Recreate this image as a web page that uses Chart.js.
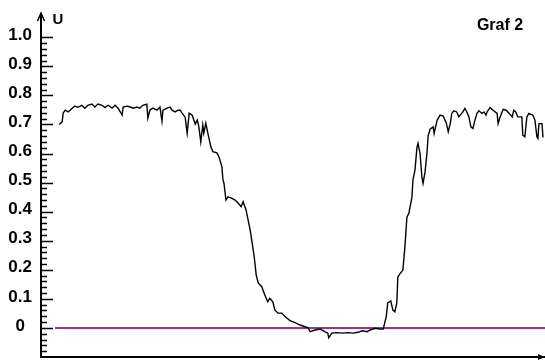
<!DOCTYPE html>
<html>
<head>
<meta charset="utf-8">
<script src="https://cdn.jsdelivr.net/npm/chart.js@4.4.0/dist/chart.umd.min.js"></script>
<style>
  html, body { margin: 0; padding: 0; background: #fff; }
  #graf2 { display: block; }
</style>
</head>
<body>
<canvas id="graf2" width="545" height="361"></canvas>
<script>
// measured trace (t = arbitrary time units, U = value)
var tValues = [
  3.6, 4.2, 4.4, 4.8, 5.4, 6.2, 6.7, 7.3, 8.1, 8.7, 9.3, 10.1, 10.7, 11.3, 12.1, 12.7, 13.3, 14.1, 14.7, 15.3,
  16.1, 16.3, 17.1, 17.7, 18.3, 19.0, 19.6, 20.2, 21.0, 21.2, 21.6, 22.2, 23.0, 23.6, 24.0, 24.2, 25.0, 25.6, 26.0, 26.6,
  27.2, 27.6, 28.0, 28.6, 29.0, 29.4, 30.0, 30.6, 31.0, 31.3, 31.7, 32.1, 32.3, 32.7, 33.1, 33.7, 34.1, 34.9, 35.3, 35.9,
  36.1, 36.3, 36.7, 37.1, 37.9, 38.5, 39.1, 39.7, 40.1, 40.7, 41.1, 41.5, 41.9, 42.3, 42.7, 43.1, 43.8, 44.4, 45.0, 45.4,
  46.0, 46.4, 47.0, 47.8, 48.4, 49.4, 50.4, 51.4, 52.4, 53.0, 53.4, 54.4, 55.4, 56.3, 56.9, 57.1, 57.7, 58.7, 59.9, 60.9,
  61.9, 62.9, 63.7, 64.7, 65.3, 66.3, 67.3, 67.9, 68.5, 68.8, 69.4, 69.8, 70.2, 70.6, 70.8, 71.2, 71.8, 72.2, 72.6, 73.0,
  73.6, 73.8, 74.2, 74.6, 74.8, 75.2, 75.6, 75.8, 76.2, 76.6, 76.8, 77.2, 77.8, 78.0, 78.6, 79.2, 79.8, 80.4, 80.8, 81.2,
  81.5, 81.9, 82.5, 82.9, 83.7, 84.1, 84.5, 84.9, 85.3, 85.7, 86.1, 86.5, 86.9, 87.5, 87.9, 88.3, 88.5, 89.1, 89.7, 90.5,
  90.7, 91.1, 91.7, 92.3, 92.9, 93.5, 93.8, 94.2, 94.6, 95.4, 95.6, 96.0, 96.4, 96.8, 97.6, 98.0, 98.4, 98.6, 98.8, 99.4,
  99.6
];
var uValues = [
  0.700, 0.709, 0.739, 0.749, 0.743, 0.756, 0.763, 0.759, 0.766, 0.756, 0.766, 0.770, 0.760, 0.770, 0.766, 0.758, 0.766, 0.756, 0.766, 0.756,
  0.732, 0.760, 0.763, 0.760, 0.756, 0.760, 0.756, 0.766, 0.770, 0.722, 0.749, 0.756, 0.749, 0.760, 0.712, 0.749, 0.756, 0.760, 0.749, 0.743,
  0.749, 0.749, 0.739, 0.725, 0.670, 0.739, 0.732, 0.701, 0.715, 0.694, 0.640, 0.698, 0.670, 0.704, 0.670, 0.623, 0.606, 0.602, 0.589, 0.554,
  0.509, 0.498, 0.440, 0.451, 0.446, 0.440, 0.430, 0.417, 0.434, 0.405, 0.371, 0.337, 0.292, 0.245, 0.182, 0.155, 0.142, 0.113, 0.090, 0.102,
  0.090, 0.062, 0.051, 0.051, 0.039, 0.025, 0.018, 0.010, 0.004, 0.000, -0.013, -0.007, -0.004, -0.013, -0.018, -0.034, -0.018, -0.016, -0.018, -0.016,
  -0.018, -0.015, -0.010, -0.013, -0.007, -0.001, -0.004, -0.004, 0.039, 0.086, 0.093, 0.062, 0.055, 0.086, 0.175, 0.186, 0.199, 0.278, 0.381, 0.395,
  0.450, 0.509, 0.543, 0.622, 0.635, 0.601, 0.515, 0.497, 0.536, 0.605, 0.660, 0.684, 0.692, 0.669, 0.715, 0.732, 0.729, 0.706, 0.675, 0.703,
  0.738, 0.747, 0.743, 0.726, 0.743, 0.755, 0.743, 0.726, 0.692, 0.686, 0.715, 0.738, 0.747, 0.738, 0.743, 0.732, 0.743, 0.758, 0.749, 0.738,
  0.703, 0.726, 0.752, 0.749, 0.738, 0.726, 0.749, 0.743, 0.726, 0.726, 0.663, 0.657, 0.726, 0.738, 0.732, 0.715, 0.657, 0.652, 0.703, 0.703,
  0.655
];

// zero reference line
var zeroT = [2.8, 100];
var zeroU = [0, 0];

// y axis labels
var yTicks = [0, 0.1, 0.2, 0.3, 0.4, 0.5, 0.6, 0.7, 0.8, 0.9, 1.0];
var yTickLabels = ['0', '0.1', '0.2', '0.3', '0.4', '0.5', '0.6', '0.7', '0.8', '0.9', '1.0'];

var axisTitle = 'U';
var chartTitle = 'Graf 2';

function toPoints(xs, ys) {
  return xs.map(function (x, i) { return { x: x, y: ys[i] }; });
}

// inner tick marks, arrows and the two captions
var axisDecor = {
  id: 'axisDecor',
  afterDraw: function (chart) {
    var ctx = chart.ctx;
    var y = chart.scales.y;
    var area = chart.chartArea;
    var x0 = area.left;
    ctx.save();
    ctx.strokeStyle = '#000';
    ctx.lineWidth = 1.5;
    for (var i = -4; i <= 50; i++) {
      var v = i * 0.02;
      var py = Math.round(y.getPixelForValue(v)) + 0.5;
      var len = (i % 5 === 0) ? 12 : 6;
      ctx.beginPath();
      ctx.moveTo(x0, py);
      ctx.lineTo(x0 + len, py);
      ctx.stroke();
    }
    // x axis line
    ctx.lineWidth = 2;
    ctx.beginPath();
    ctx.moveTo(x0 - 1, area.bottom);
    ctx.lineTo(area.right, area.bottom);
    ctx.stroke();
    // y arrow
    ctx.lineWidth = 1.5;
    ctx.beginPath();
    ctx.moveTo(x0 - 3.5, area.top + 7);
    ctx.lineTo(x0, area.top - 1);
    ctx.lineTo(x0 + 3.5, area.top + 7);
    ctx.stroke();
    // x arrow
    ctx.fillStyle = '#000';
    ctx.beginPath();
    ctx.moveTo(area.right, area.bottom);
    ctx.lineTo(area.right - 7, area.bottom - 3);
    ctx.lineTo(area.right - 7, area.bottom + 3);
    ctx.closePath();
    ctx.fill();

    ctx.font = 'bold 15px "Liberation Sans", Arial, sans-serif';
    ctx.textAlign = 'center';
    ctx.textBaseline = 'middle';
    ctx.fillText(axisTitle, 58, 20);
    ctx.font = 'bold 16px "Liberation Sans", Arial, sans-serif';
    ctx.fillText(chartTitle, 500, 26);
    ctx.restore();
  }
};

var ctx_graf2 = document.getElementById('graf2');
var graf2 = new Chart(ctx_graf2, {
  type: 'line',
  data: {
    datasets: [
      {
        label: 'U',
        data: toPoints(tValues, uValues),
        borderColor: '#000',
        borderWidth: 1.4,
        pointRadius: 0,
        tension: 0,
      },
      {
        label: 'zero',
        data: toPoints(zeroT, zeroU),
        borderColor: '#993399',
        borderWidth: 2,
        pointRadius: 0,
      },
    ],
  },
  options: {
    responsive: false,
    animation: false,
    devicePixelRatio: 1,
    layout: { padding: { top: 14, bottom: 4, left: 0, right: 0 } },
    plugins: {
      legend: { display: false },
      tooltip: { enabled: false },
    },
    scales: {
      x: {
        type: 'linear',
        display: false,
        min: 0,
        max: 100,
      },
      y: {
        type: 'linear',
        min: -0.1,
        max: 1.08,
        afterFit: function (scale) {
          scale.width = 41;
          scale.paddingTop = 0;
          scale.paddingBottom = 0;
        },
        afterBuildTicks: function (scale) {
          scale.ticks = yTicks.map(function (v) { return { value: v }; });
        },
        grid: { display: false, drawTicks: false },
        border: { display: true, color: '#000', width: 2 },
        ticks: {
          crossAlign: 'center',
          padding: 9,
          labelOffset: -2,
          color: '#000',
          font: { family: '"Liberation Sans", Arial, sans-serif', size: 17, weight: 'bold' },
          callback: function (value, index) { return yTickLabels[index]; },
        },
      },
    },
  },
  plugins: [axisDecor],
});
</script>
</body>
</html>
